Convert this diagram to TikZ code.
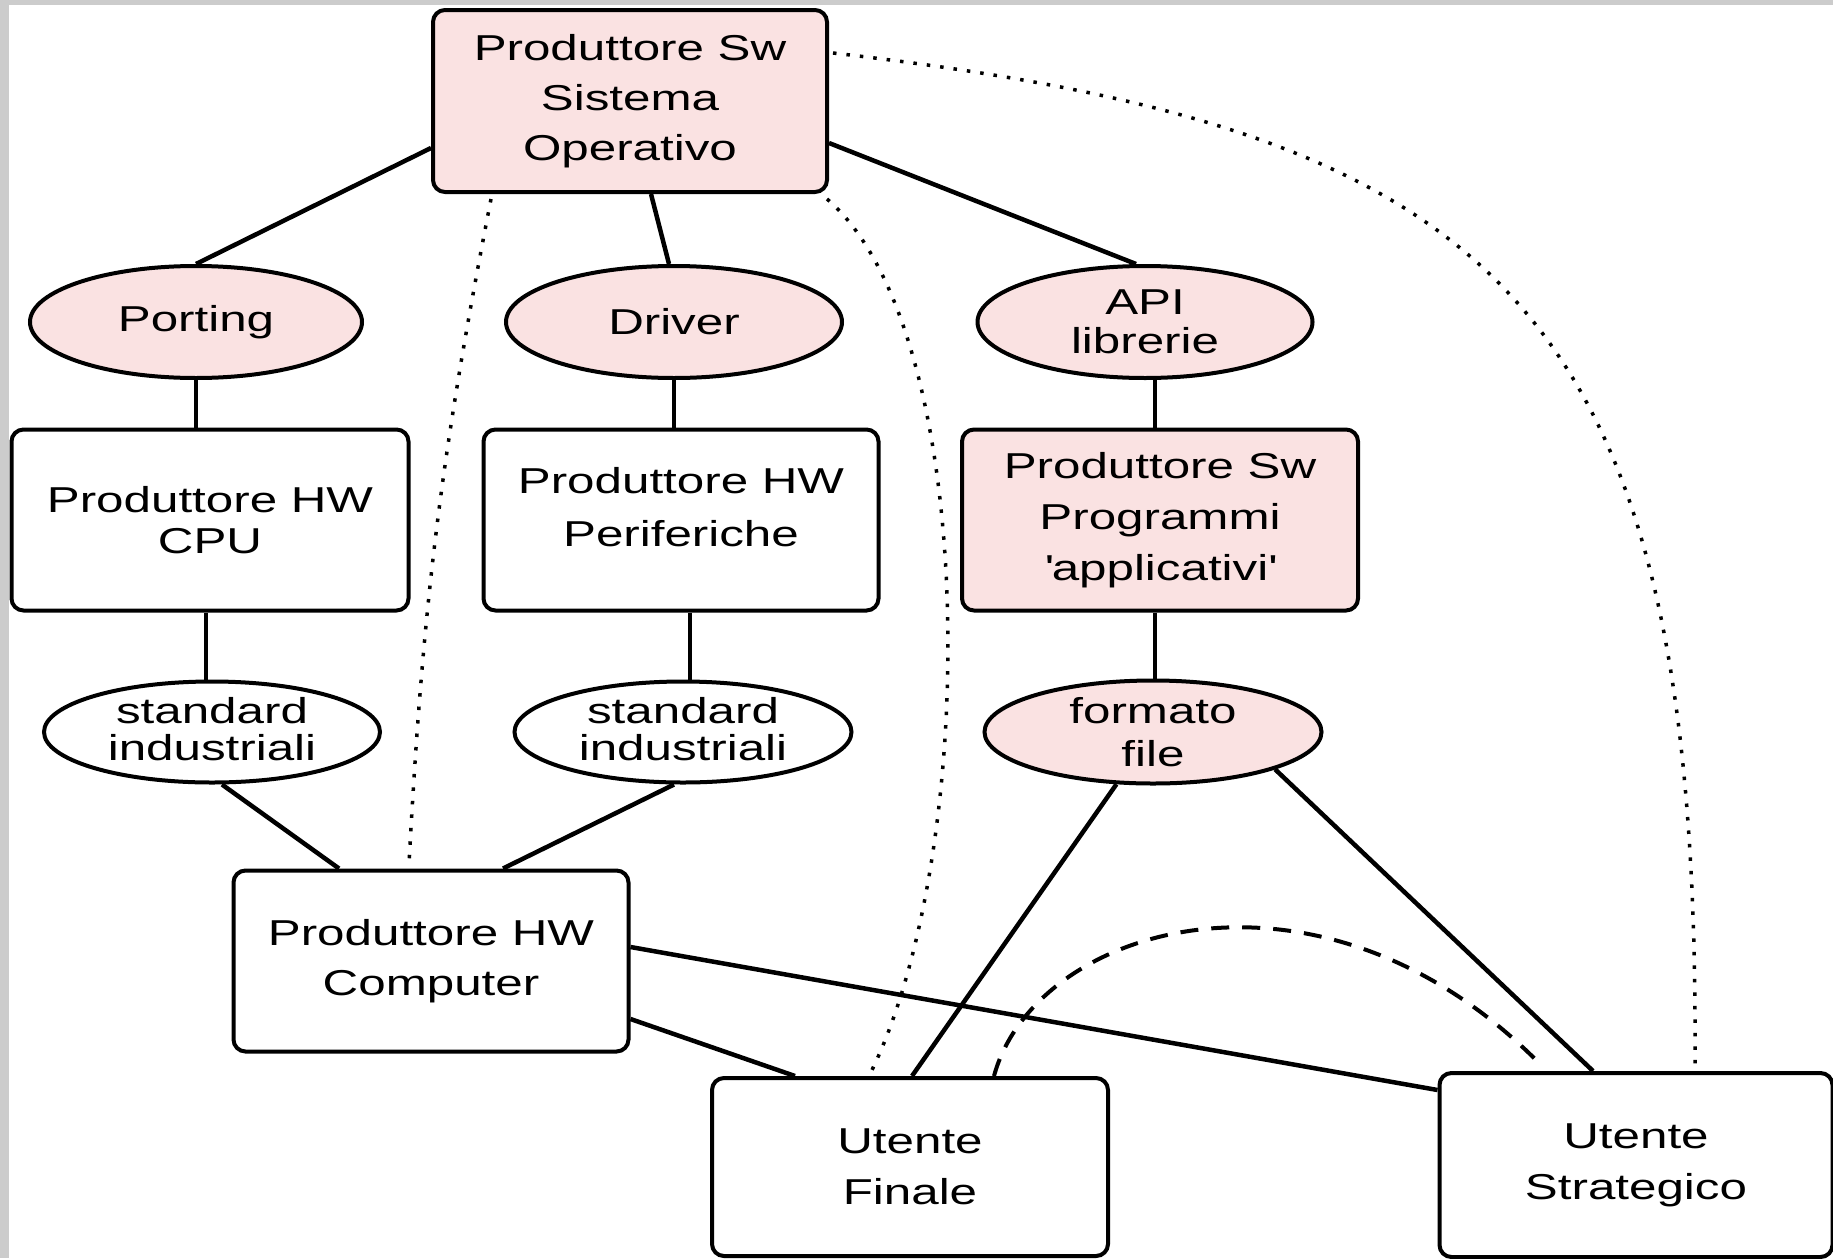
\documentclass[tikz,border=0pt]{standalone}
\usepackage{fontspec}
\setmainfont{Liberation Sans}[FakeStretch=1.37]
\usetikzlibrary{shapes.geometric,calc}
\definecolor{pinkfill}{RGB}{250,226,226}
\definecolor{framegray}{RGB}{204,204,204}
\begin{document}
\begin{tikzpicture}[x=1pt,y=-1pt,
  every node/.style={align=center},
  fs/.style={font=\fontsize{36}{#1}\selectfont},
  box/.style={draw, line width=4pt, rounded corners=12pt, inner sep=0pt,
              minimum width=395pt, minimum height=181pt, fs=50},
  ell/.style={ellipse, draw, line width=4pt, inner sep=-40pt,
              minimum width=334pt, minimum height=110pt, fs=40},
  conn/.style={line width=4.5pt},
  dotline/.style={line width=3.5pt, dash pattern=on 3.5pt off 10pt},
  dashline/.style={line width=4pt, dash pattern=on 18pt off 13pt}]
\useasboundingbox (0,0) rectangle (1833,1258);
\fill[framegray] (0,0) rectangle (1833,1258);
\fill[white] (9,5) rectangle (1833,1258);

% nodes
\node[box, fill=pinkfill, minimum width=394pt, minimum height=182pt] (so) at (630,101) {Produttore Sw\\Sistema\\Operativo};
\node[ell, fill=pinkfill, minimum width=332pt, minimum height=112pt] (porting) at (196,322) {Porting};
\node[ell, fill=pinkfill, minimum width=336pt, minimum height=112pt] (driver) at (674,322) {Driver};
\node[ell, fill=pinkfill, minimum width=335pt, minimum height=112pt, fs=39] (api) at (1145,322) {API\\librerie};
\node[box, minimum width=397pt, fs=41] (cpu) at (210,520) {Produttore HW\\CPU};
\node[box, fs=53] (perif) at (681,520) {Produttore HW\\Periferiche\\[-27pt]\mbox{}};
\node[box, fill=pinkfill, minimum width=396pt, fs=51] (prog) at (1160,520) {Produttore Sw\\Programmi\\\textquotesingle applicativi\textquotesingle};
\node[ell, minimum width=336pt, minimum height=101pt, fs=37] (std1) at (212,732) {standard\\industriali\\[-30pt]\mbox{}};
\node[ell, minimum width=337pt, minimum height=101pt, fs=37] (std2) at (683,732) {standard\\industriali\\[-30pt]\mbox{}};
\node[ell, fill=pinkfill, minimum width=337pt, minimum height=103pt, fs=43] (fmt) at (1153,732) {formato\\file};
\node[box] (comp) at (431,961) {Produttore HW\\Computer};
\node[box, minimum width=396pt, minimum height=178pt, fs=51] (uf) at (910,1167) {Utente\\Finale};
\node[box, minimum width=393pt, minimum height=184pt, fs=51] (us) at (1636,1165) {Utente\\Strategico};

% solid connectors
\draw[conn] ([yshift=-47pt]so.west) -- (porting.north);
\draw[conn] ([xshift=21pt]so.south) -- ([xshift=-5pt]driver.north);
\draw[conn] ([yshift=-42pt]so.east) -- ([xshift=-9pt]api.north);
\draw[conn] (porting.south) -- (porting.south |- cpu.north);
\draw[conn] (driver.south) -- (driver.south |- perif.north);
\draw[conn] ([xshift=-5pt]prog.north) -- ([xshift=-5pt]prog.north |- api.south);
\draw[conn] ([xshift=-4pt]cpu.south) -- ([xshift=-4pt]cpu.south |- std1.north);
\draw[conn] ([xshift=9pt]perif.south) -- ([xshift=9pt]perif.south |- std2.north);
\draw[conn] ([xshift=-5pt]prog.south) -- ([xshift=-5pt]prog.south |- fmt.north);
\draw[conn] ([xshift=10pt]std1.south) -- ([xshift=-92pt]comp.north);
\draw[conn] ([xshift=-9pt]std2.south) -- ([xshift=72pt]comp.north);
\draw[conn] (fmt) -- ([xshift=2pt]uf.north);
\draw[conn] (fmt.-17) -- ([xshift=-43pt]us.north);
\draw[conn] ([yshift=-58pt]comp.east) -- ([xshift=-115pt]uf.north);
\draw[conn] ([yshift=14pt]comp.east) -- ([yshift=-19pt]us.north west);

% dotted connectors
\draw[dotline] ([xshift=-139pt,yshift=-5pt]so.south) to[bend right=4] ([xshift=-22pt,yshift=4pt]comp.north);
\draw[dotline] ([xshift=-2pt,yshift=-5pt]so.south east) .. controls (980,330) and (980,850) .. ([xshift=-39pt,yshift=4pt]uf.north);
\draw[dotline] ([xshift=4pt,yshift=48pt]so.east) .. controls (1500,130) and (1700,300) .. ([xshift=59pt,yshift=4pt]us.north);

% dashed connector
\draw[dashline] ([xshift=84pt]uf.north) .. controls (1035,925) and (1320,840) .. ([xshift=-95pt,yshift=6pt]us.north);
\end{tikzpicture}
\end{document}
